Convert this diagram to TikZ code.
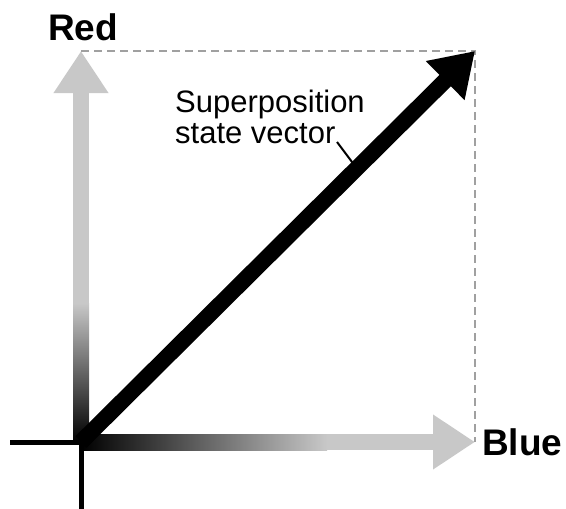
\documentclass[tikz,border=0pt]{standalone}
\usepackage{fontspec}
\setmainfont{Liberation Sans}
\usetikzlibrary{arrows.meta, calc}
\definecolor{cAxis}{RGB}{200,200,200}
\definecolor{cDash}{RGB}{160,160,160}

\begin{document}
\begin{tikzpicture}[x=1pt, y=-1pt,
    axisarrow/.style={draw=cAxis, line width=16pt, -{Triangle[length=42pt, width=52pt]}},
    vecarrow/.style={draw=black, line width=16pt, -{Triangle[length=42pt, width=52pt]}},
    cross/.style={draw=black, line width=5pt},
    guide/.style={draw=cDash, line width=2.5pt, dash pattern=on 8pt off 5pt},
    axlbl/.style={font=\fontsize{37}{40}\selectfont\bfseries, inner sep=0pt},
    txtlbl/.style={font=\fontsize{31}{31}\selectfont, inner sep=0pt, align=left}]
  \useasboundingbox (0,0) rectangle (566,509);
  % points
  \coordinate (o)    at (81,442);
  \coordinate (rtip) at (81,51);
  \coordinate (btip) at (475,442);
  \coordinate (vtip) at (475,51);
  \coordinate (lft)  at (10,442);
  \coordinate (dwn)  at (81,509);
  % gray axes with dark gradient near the origin
  \draw[axisarrow] (o) -- (rtip);
  \draw[axisarrow] (o) -- (btip);
  \shade[bottom color=black, top color=cAxis] (73,442) rectangle (89,303);
  \shade[left color=black, right color=cAxis] (81,434) rectangle (327,450);
  % crosshair
  \draw[cross] (lft) -- (o) -- (dwn);
  % dashed box
  \draw[guide] (rtip) -- (vtip) -- (btip);
  % labels
  \node[axlbl] (red) at (83,27) {Red};
  \node[axlbl, anchor=west] (blue) at (482,442) {Blue};
  \node[txtlbl, anchor=north west] (sup) at (175,90) {Superposition\\state vector};
  % pointer and state vector
  \coordinate (ptr) at (337,142);
  \coordinate (hit) at ($(o)!0.7!(vtip)$);
  \draw[line width=2pt] (ptr) -- (hit);
  \draw[vecarrow] (o) -- (vtip);
\end{tikzpicture}
\end{document}
